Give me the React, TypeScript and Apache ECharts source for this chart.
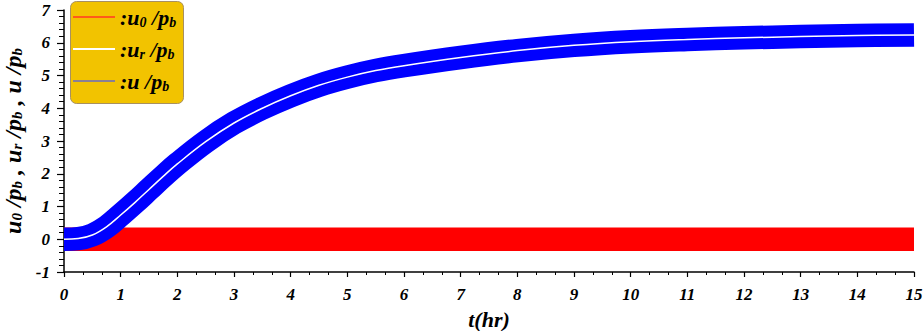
import React, { useEffect, useRef } from "react";
import * as echarts from "echarts";

// time (hr)
const T = [0, 0.25, 0.5, 0.75, 1, 1.25, 1.5, 1.75, 2, 2.5, 3, 3.5, 4, 4.5, 5, 5.5, 6, 7, 8, 9, 10, 11, 12, 13, 14, 15];
// ur/pb (centre line; u/pb oscillates around it)
const UR = [0, 0.02, 0.13, 0.38, 0.74, 1.12, 1.52, 1.92, 2.3, 2.98, 3.55, 4.0, 4.38, 4.7, 4.95, 5.15, 5.3, 5.55, 5.76, 5.92, 6.03, 6.1, 6.15, 6.19, 6.22, 6.24];
// u0/pb mean (oscillates around zero)
const T0 = [0, 15];
const U0 = [0, 0];

const X_TICKS = [0, 15, 1];
const Y_TICKS = [-1, 7, 1];

const SERIF = "Liberation Serif";

export default function App() {
  const ref = useRef<HTMLDivElement>(null);
  useEffect(() => {
    if (!ref.current) return;
    const chart = echarts.init(ref.current, undefined, { renderer: "svg" });
    const zip = (a: number[], b: number[]) => a.map((v, i) => [v, b[i]]);
    const m = { fontFamily: SERIF, fontWeight: "bold", fontStyle: "italic", color: "#000" } as any;
    const rich = {
      m: { ...m, fontSize: 22, lineHeight: 24 },
      s: { ...m, fontSize: 14, lineHeight: 13, verticalAlign: "bottom" },
    };
    const yrich = {
      m: { ...m, fontSize: 24, lineHeight: 24 },
      s: { ...m, fontSize: 15, lineHeight: 13, verticalAlign: "bottom" },
    };
    const legendText: Record<string, string> = {
      "u0/pb": "{m|:u}{s|0}{m| /p}{s|b}",
      "ur/pb": "{m|:u}{s|r}{m| /p}{s|b}",
      "u/pb": "{m|:u /p}{s|b}",
    };
    const lbl = { fontFamily: SERIF, fontWeight: "bold", fontStyle: "italic", fontSize: 17, color: "#000" } as any;
    chart.setOption({
      animation: false,
      grid: { left: 64, right: 10, top: 10, bottom: 59, outerBoundsMode: "none", containLabel: false },
      graphic: [
        {
          type: "rect",
          left: 70,
          top: 1,
          z: 5,
          shape: { width: 113, height: 102, r: 6 },
          style: { fill: "#f2c300", stroke: "#a89060", lineWidth: 1 },
        },
      ],
      legend: {
        orient: "vertical",
        left: 73,
        top: 6,
        padding: 0,
        z: 6,
        itemWidth: 42,
        itemHeight: 2,
        itemGap: 9,
        selectedMode: false,
        icon: "rect",
        data: [
          { name: "u0/pb", itemStyle: { color: "#ff5a1a" } },
          { name: "ur/pb", itemStyle: { color: "#ffffff" } },
          { name: "u/pb", itemStyle: { color: "#8a8094" } },
        ],
        formatter: (n: string) => legendText[n],
        textStyle: { rich },
      },
      xAxis: {
        type: "value",
        min: X_TICKS[0],
        max: X_TICKS[1],
        interval: X_TICKS[2],
        name: "t(hr)",
        nameLocation: "middle",
        nameGap: 36,
        nameTextStyle: { ...m, fontSize: 22 },
        axisLine: { onZero: false, lineStyle: { color: "#000", width: 1.5 } },
        axisTick: { length: 5, lineStyle: { color: "#000", width: 1.2 } },
        minorTick: { show: true, splitNumber: 3, length: 3, lineStyle: { color: "#000", width: 1 } },
        axisLabel: { ...lbl, margin: 14 },
        splitLine: { show: false },
      },
      yAxis: {
        type: "value",
        min: Y_TICKS[0],
        max: Y_TICKS[1],
        interval: Y_TICKS[2],
        name: "{m|u}{s|0}{m| /p}{s|b}{m| , u}{s|r}{m| /p}{s|b}{m| , u /p}{s|b}",
        nameLocation: "middle",
        nameGap: 31,
        nameTextStyle: { rich: yrich },
        axisLine: { show: true, onZero: false, lineStyle: { color: "#000", width: 1.5 } },
        axisTick: { length: 7, lineStyle: { color: "#000", width: 1.2 } },
        minorTick: { show: true, splitNumber: 5, length: 5, lineStyle: { color: "#000", width: 1 } },
        axisLabel: { ...lbl, margin: 14 },
        splitLine: { show: false },
      },
      series: [
        {
          name: "u0/pb",
          type: "line",
          data: zip(T0, U0),
          symbol: "none",
          silent: true,
          clip: true,
          lineStyle: { color: "#ff0000", width: 23.5, cap: "butt" },
        },
        {
          name: "u/pb",
          type: "line",
          data: zip(T, UR),
          smooth: 0.4,
          symbol: "none",
          silent: true,
          clip: true,
          lineStyle: { color: "#0000ff", width: 23.5, cap: "butt", join: "round" },
        },
        {
          name: "ur/pb",
          type: "line",
          data: zip(T, UR),
          smooth: 0.4,
          symbol: "none",
          silent: true,
          lineStyle: { color: "#ffffff", width: 1.5 },
        },
      ],
    });
    return () => chart.dispose();
  }, []);
  return (
    <div
      ref={ref}
      style={{ position: "fixed", left: 0, top: 0, width: 924, height: 331, background: "#fff" }}
    />
  );
}
